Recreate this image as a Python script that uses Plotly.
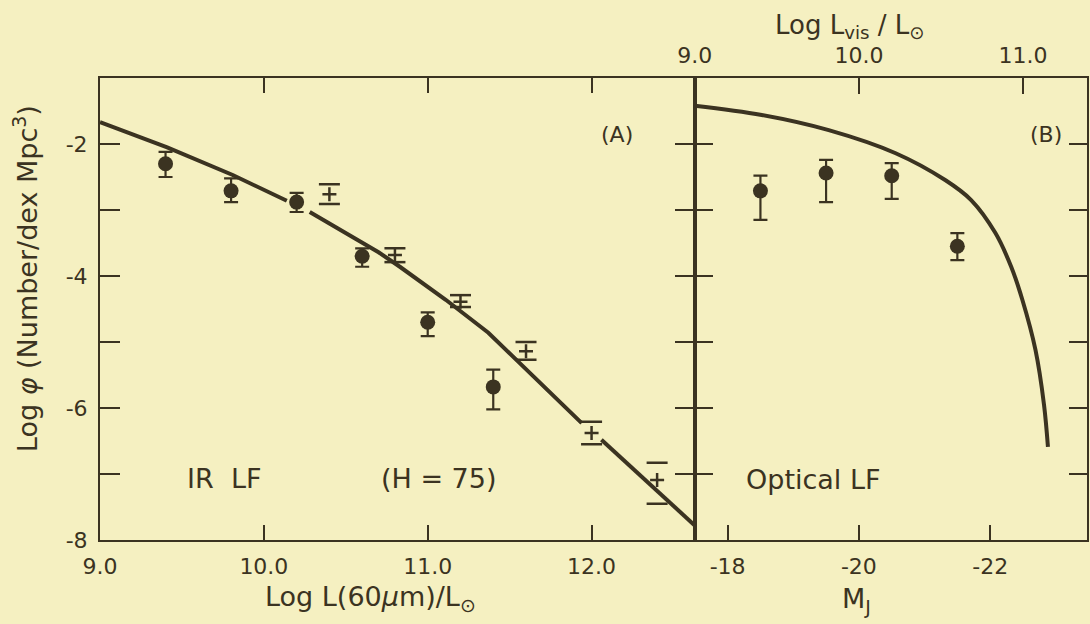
import plotly.graph_objects as go

# ---------------- data ----------------
# Panel A: IR luminosity function
ir_circ_x = [9.4, 9.8, 10.2, 10.6, 11.0, 11.4]
ir_circ_y = [-2.30, -2.71, -2.88, -3.70, -4.70, -5.68]
ir_circ_hi = [-2.12, -2.52, -2.74, -3.58, -4.55, -5.42]
ir_circ_lo = [-2.50, -2.88, -3.03, -3.86, -4.91, -6.02]

ir_cross_x = [10.4, 10.8, 11.2, 11.6, 12.0, 12.4]
ir_cross_y = [-2.76, -3.68, -4.39, -5.14, -6.38, -7.09]
ir_cross_hi = [-2.61, -3.58, -4.29, -5.00, -6.21, -6.83]
ir_cross_lo = [-2.91, -3.79, -4.47, -5.27, -6.55, -7.45]

ir_curve_x = [9.0, 9.41, 9.81, 10.14, None, 10.28, 10.70, 10.83, 11.11, 11.37, 11.56, 11.94, None, 12.06, 12.63]
ir_curve_y = [-1.67, -2.05, -2.47, -2.86, None, -3.03, -3.64, -3.86, -4.36, -4.86, -5.32, -6.23, None, -6.48, -7.78]

# Panel B: optical luminosity function
opt_M = [-18.5, -19.5, -20.5, -21.5]
opt_y = [-2.71, -2.44, -2.48, -3.55]
opt_hi = [-2.48, -2.24, -2.29, -3.35]
opt_lo = [-3.15, -2.88, -2.83, -3.76]

opt_curve_M = [-17.5, -18.52, -19.54, -20.56, -21.32, -21.71, -22.08, -22.32, -22.49, -22.69, -22.82, -22.88]
opt_curve_y = [-1.42, -1.56, -1.79, -2.14, -2.55, -2.85, -3.35, -3.86, -4.36, -5.12, -5.95, -6.59]

# axis ticks
ir_ticks = [9, 10, 11, 12]
ir_ticktext = ["9.0", "10.0", "11.0", "12.0"]
mj_ticks = [-18, -20, -22]
mj_ticktext = ["-18", "-20", "-22"]
lvis_ticks = [9, 10, 11]
lvis_ticktext = ["9.0", "10.0", "11.0"]
y_ticks = [-8, -7, -6, -5, -4, -3, -2]
y_ticktext = ["-8", "", "-6", "", "-4", "", "-2"]

# ---------------- style ----------------
BG = "#F5F0C1"
INK = "#3B3321"
FONT = "DejaVu Sans"
W, H = 1090, 624
ML, MR, MT, MB = 100, 1, 78, 84
split = (696 - ML) / (W - ML - MR)

MJ_RANGE = [-17.5, -23.475]
LVIS_RANGE = [9.0, 9.0 + (MJ_RANGE[0] - MJ_RANGE[1]) / 2.5]

fig = go.Figure()


def errs(y, hi, lo):
    return [h - v for v, h in zip(y, hi)], [v - l for v, l in zip(y, lo)]


# Panel A curve
fig.add_trace(go.Scatter(x=ir_curve_x, y=ir_curve_y, mode="lines", connectgaps=False,
                         line=dict(color=INK, width=4), xaxis="x", yaxis="y",
                         showlegend=False, hoverinfo="skip"))
# Panel A circles
up, dn = errs(ir_circ_y, ir_circ_hi, ir_circ_lo)
fig.add_trace(go.Scatter(x=ir_circ_x, y=ir_circ_y, mode="markers",
                         marker=dict(symbol="circle", size=15, color=INK),
                         error_y=dict(type="data", symmetric=False, array=up, arrayminus=dn,
                                      color=INK, thickness=2.2, width=7),
                         xaxis="x", yaxis="y", showlegend=False))
# Panel A crosses with detached caps
fig.add_trace(go.Scatter(x=ir_cross_x, y=ir_cross_y, mode="markers",
                         marker=dict(symbol="cross-thin", size=10, color=INK,
                                     line=dict(color=INK, width=2.5)),
                         xaxis="x", yaxis="y", showlegend=False))
for arr in (ir_cross_hi, ir_cross_lo):
    fig.add_trace(go.Scatter(x=ir_cross_x, y=arr, mode="markers",
                             marker=dict(symbol="line-ew", size=15, color=INK,
                                         line=dict(color=INK, width=2.5)),
                             xaxis="x", yaxis="y", showlegend=False))

# Panel B curve
fig.add_trace(go.Scatter(x=opt_curve_M, y=opt_curve_y, mode="lines",
                         line=dict(color=INK, width=4, shape="spline", smoothing=1.0),
                         xaxis="x2", yaxis="y2", showlegend=False, hoverinfo="skip"))
up, dn = errs(opt_y, opt_hi, opt_lo)
fig.add_trace(go.Scatter(x=opt_M, y=opt_y, mode="markers",
                         marker=dict(symbol="circle", size=15, color=INK),
                         error_y=dict(type="data", symmetric=False, array=up, arrayminus=dn,
                                      color=INK, thickness=2.2, width=7),
                         xaxis="x2", yaxis="y2", showlegend=False))
# invisible trace to carry the top (Log L_vis) axis
fig.add_trace(go.Scatter(x=lvis_ticks, y=[-8] * len(lvis_ticks), mode="markers",
                         marker=dict(opacity=0), xaxis="x3", yaxis="y2",
                         showlegend=False, hoverinfo="skip"))

axis_common = dict(showgrid=False, zeroline=False, showline=True, linecolor=INK,
                   linewidth=2, ticks="inside", tickcolor=INK, tickwidth=2,
                   tickfont=dict(family=FONT, size=22, color=INK))

fig.update_layout(
    width=W, height=H,
    margin=dict(l=ML, r=MR, t=MT, b=MB),
    paper_bgcolor=BG, plot_bgcolor=BG,
    font=dict(family=FONT, color=INK),
    xaxis=dict(domain=[0, split], range=[9.0, 12.63], tickmode="array",
               tickvals=ir_ticks, ticktext=ir_ticktext, ticklen=15, mirror="ticks",
               anchor="y", ticklabelstandoff=6, **axis_common),
    yaxis=dict(range=[-8, -1], tickmode="array", tickvals=y_ticks, ticktext=y_ticktext,
               ticklen=20, mirror="ticks", anchor="x", ticklabelstandoff=6, **axis_common),
    xaxis2=dict(domain=[split, 1], range=MJ_RANGE, tickmode="array",
                tickvals=mj_ticks, ticktext=mj_ticktext, ticklen=15, anchor="y2",
                ticklabelstandoff=6, **axis_common),
    yaxis2=dict(range=[-8, -1], tickmode="array", tickvals=y_ticks, showticklabels=False,
                ticklen=18, mirror="ticks", anchor="x2", **axis_common),
    xaxis3=dict(domain=[split, 1], range=LVIS_RANGE, tickmode="array",
                tickvals=lvis_ticks, ticktext=lvis_ticktext, ticklen=16,
                overlaying="x2", side="top", anchor="y2", ticklabelstandoff=4,
                **axis_common),
)

pw = W - ML - MR
ph = H - MT - MB


def px(xp):
    return (xp - ML) / pw


def py(yp):
    return (H - MB - yp) / ph


ann = [
    dict(text="Log <i>φ</i> (Number/dex Mpc<sup>3</sup>)", x=px(25), y=py(279), textangle=-90,
         font=dict(size=27)),
    dict(text="Log L(60<i>μ</i>m)/L<sub>⊙</sub>", x=px(371), y=py(598), font=dict(size=27)),
    dict(text="M<sub>J</sub>", x=px(858), y=py(600), font=dict(size=27)),
    dict(text="Log L<sub>vis</sub> / L<sub>⊙</sub>", x=px(852), y=py(26), font=dict(size=26)),
    dict(text="(A)", x=px(618), y=py(134), font=dict(size=22)),
    dict(text="(B)", x=px(1048), y=py(134), font=dict(size=22)),
    dict(text="IR  LF", x=px(224), y=py(478), font=dict(size=27)),
    dict(text="(H = 75)", x=px(440), y=py(478), font=dict(size=27)),
    dict(text="Optical LF", x=px(815), y=py(479), font=dict(size=27)),
]
for a in ann:
    a.update(xref="paper", yref="paper", showarrow=False, xanchor="center", yanchor="middle")
    a["font"] = dict(family=FONT, color=INK, size=a["font"]["size"])
fig.update_layout(annotations=ann)

fig.write_html(
    "out.html",
    config={"displayModeBar": False},
    post_script=(
        "document.documentElement.style.margin='0';"
        "document.body.style.margin='0';document.body.style.padding='0';"
        f"document.body.style.background='{BG}';"
    ),
)
